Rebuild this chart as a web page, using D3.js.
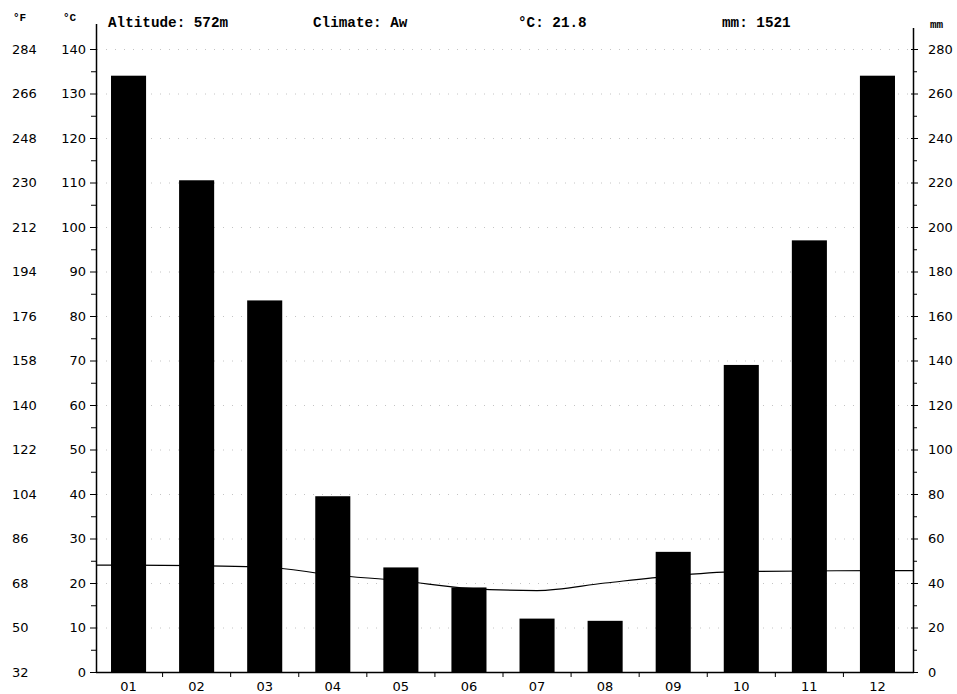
<!DOCTYPE html>
<html><head><meta charset="utf-8">
<script src="https://cdn.jsdelivr.net/npm/d3@7/dist/d3.min.js"></script>
<style>body{margin:0;background:#fff}svg{display:block}</style>
</head><body>
<svg id="c" width="957" height="694"></svg>
<script>
const months = ["01","02","03","04","05","06","07","08","09","10","11","12"];
const precipitation = [268, 221, 167, 79, 47, 38, 24, 23, 54, 138, 194, 268];
const temperature = [24.0, 23.9, 23.6, 21.8, 20.5, 18.8, 18.3, 20.0, 21.6, 22.6, 22.7, 22.8];
const celsiusTicks = [0,10,20,30,40,50,60,70,80,90,100,110,120,130,140];
const mmTicks = [0,20,40,60,80,100,120,140,160,180,200,220,240,260,280];
const header = [
  {t:"Altitude: 572m", x:108}, {t:"Climate: Aw", x:313}, {t:"°C: 21.8", x:518}, {t:"mm: 1521", x:722}
];
const unitLabels = [{t:"°F", x:13, y:21}, {t:"°C", x:63, y:21}, {t:"mm", x:930, y:28}];

const svg = d3.select("#c");
const L = 96, R = 913, B = 672, T = 49;
const x = d3.scaleBand().domain(months).range([L - 1.5, R - 1.5]).paddingInner(0.485).paddingOuter(0.2425);
const yC = d3.scaleLinear().domain([0,140]).range([B, T]);
const yM = d3.scaleLinear().domain([0,280]).range([B, T]);
const numFont = "DejaVu Sans";

// faint dotted gridlines
svg.append("g").selectAll("line").data(celsiusTicks.filter(d=>d>0)).join("line")
  .attr("x1", L+1).attr("x2", R-1).attr("y1", d=>yC(d)+0.5).attr("y2", d=>yC(d)+0.5)
  .attr("stroke", "#c4c4c4").attr("stroke-width", 1).attr("stroke-dasharray", "1,8");

// bars
svg.append("g").selectAll("rect").data(months).join("rect")
  .attr("x", d=>x(d)).attr("width", x.bandwidth())
  .attr("y", (d,i)=>yM(precipitation[i])).attr("height", (d,i)=>B - yM(precipitation[i]))
  .attr("fill", "#000");

// temperature line
const pts = [[L, temperature[0]]].concat(months.map((m,i)=>[x(m)+x.bandwidth()/2, temperature[i]])).concat([[R, temperature[11]]]);
svg.append("path").datum(pts)
  .attr("d", d3.line().x(d=>d[0]).y(d=>yC(d[1])).curve(d3.curveMonotoneX))
  .attr("fill","none").attr("stroke","#000").attr("stroke-width",1.2);

// left axis
const gl = svg.append("g");
gl.append("line").attr("x1",L+0.5).attr("x2",L+0.5).attr("y1",24).attr("y2",B).attr("stroke","#000").attr("stroke-width",1.5);
gl.selectAll(".mj").data(celsiusTicks).join("line").attr("class","mj")
  .attr("x1",L-6).attr("x2",L).attr("y1",d=>yC(d)+0.5).attr("y2",d=>yC(d)+0.5).attr("stroke","#000");
gl.selectAll(".mn").data(d3.range(5,140,10)).join("line").attr("class","mn")
  .attr("x1",L-5).attr("x2",L).attr("y1",d=>yC(d)+0.5).attr("y2",d=>yC(d)+0.5).attr("stroke","#000");
gl.selectAll(".lc").data(celsiusTicks).join("text").attr("class","lc")
  .attr("x",86).attr("y",d=>yC(d)).attr("dy","0.36em").attr("text-anchor","end")
  .attr("font-family",numFont).attr("font-size",13).text(d=>d);
gl.selectAll(".lf").data(celsiusTicks).join("text").attr("class","lf")
  .attr("x",12).attr("y",d=>yC(d)).attr("dy","0.36em").attr("text-anchor","start")
  .attr("font-family",numFont).attr("font-size",13).text(d=>Math.round(d*1.8+32));

// right axis
const gr = svg.append("g");
gr.append("line").attr("x1",R+0.5).attr("x2",R+0.5).attr("y1",28).attr("y2",B).attr("stroke","#000").attr("stroke-width",1.5);
gr.selectAll(".mj").data(mmTicks).join("line").attr("class","mj")
  .attr("x1",R-2).attr("x2",R+5).attr("y1",d=>yM(d)+0.5).attr("y2",d=>yM(d)+0.5).attr("stroke","#000");
gr.selectAll(".mn").data(d3.range(10,280,20)).join("line").attr("class","mn")
  .attr("x1",R).attr("x2",R+4).attr("y1",d=>yM(d)+0.5).attr("y2",d=>yM(d)+0.5).attr("stroke","#000");
gr.selectAll("text").data(mmTicks).join("text")
  .attr("x",928).attr("y",d=>yM(d)).attr("dy","0.36em").attr("text-anchor","start")
  .attr("font-family",numFont).attr("font-size",13).text(d=>d);

// bottom axis
const gb = svg.append("g");
gb.append("line").attr("x1",L).attr("x2",R+1).attr("y1",B+0.5).attr("y2",B+0.5).attr("stroke","#000").attr("stroke-width",1.5);
gb.selectAll(".tk").data(months.slice(1)).join("line").attr("class","tk")
  .attr("x1",d=>x(d)-x.step()*x.paddingInner()/2).attr("x2",d=>x(d)-x.step()*x.paddingInner()/2)
  .attr("y1",B).attr("y2",B+5).attr("stroke","#000");
gb.selectAll("text").data(months).join("text")
  .attr("x",d=>x(d)+x.bandwidth()/2).attr("y",691).attr("text-anchor","middle")
  .attr("font-family",numFont).attr("font-size",13).text(d=>d);

// header
svg.append("g").selectAll("text").data(header).join("text")
  .attr("x",d=>d.x).attr("y",27).attr("font-family","Liberation Mono").attr("font-weight","bold")
  .attr("font-size",14.3).text(d=>d.t);
svg.append("g").selectAll("text").data(unitLabels).join("text")
  .attr("x",d=>d.x).attr("y",d=>d.y).attr("font-family","Liberation Mono").attr("font-weight","bold")
  .attr("font-size",11).text(d=>d.t);
</script>
</body></html>
